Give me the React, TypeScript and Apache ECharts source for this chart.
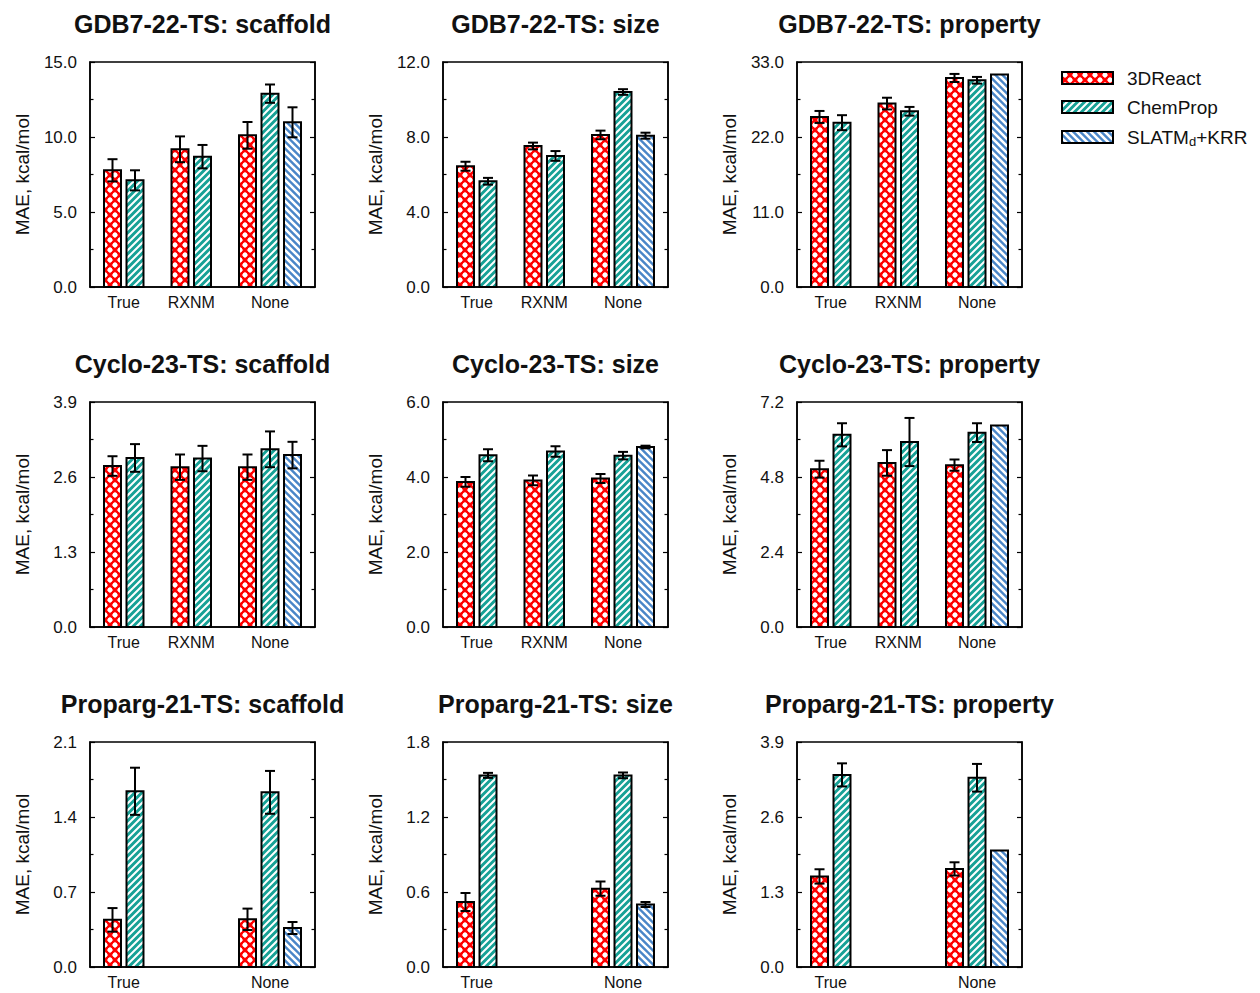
import { useEffect, useRef } from 'react';
import * as echarts from 'echarts';

// ---- data ----
const panelTitles = [
  'GDB7-22-TS: scaffold',
  'GDB7-22-TS: size',
  'GDB7-22-TS: property',
  'Cyclo-23-TS: scaffold',
  'Cyclo-23-TS: size',
  'Cyclo-23-TS: property',
  'Proparg-21-TS: scaffold',
  'Proparg-21-TS: size',
  'Proparg-21-TS: property',
];
const yMax = [15, 12, 33, 3.9, 6, 7.2, 2.1, 1.8, 3.9];
const groupLabels = ['True', 'RXNM', 'None'];
const yAxisName = 'MAE, kcal/mol';

// values per panel, ordered [True, RXNM, None]; null = not evaluated
const react3dMAE = [
  [7.78, 9.18, 10.11],
  [6.44, 7.52, 8.11],
  [24.94, 26.9, 30.66],
  [2.79, 2.77, 2.77],
  [3.87, 3.91, 3.96],
  [5.05, 5.25, 5.18],
  [0.44, null, 0.445],
  [0.52, null, 0.627],
  [1.57, null, 1.7],
];
const react3dErr = [
  [0.74, 0.86, 0.89],
  [0.24, 0.18, 0.23],
  [0.88, 0.86, 0.59],
  [0.17, 0.22, 0.22],
  [0.13, 0.13, 0.12],
  [0.27, 0.41, 0.18],
  [0.11, null, 0.1],
  [0.072, null, 0.057],
  [0.124, null, 0.115],
];
const chempropMAE = [
  [7.11, 8.69, 12.89],
  [5.64, 6.99, 10.4],
  [24.1, 25.77, 30.32],
  [2.93, 2.92, 3.08],
  [4.58, 4.68, 4.57],
  [6.15, 5.92, 6.22],
  [1.64, null, 1.63],
  [1.533, null, 1.533],
  [3.33, null, 3.28],
];
const chempropErr = [
  [0.67, 0.78, 0.61],
  [0.18, 0.26, 0.15],
  [1.1, 0.64, 0.49],
  [0.24, 0.22, 0.31],
  [0.16, 0.14, 0.1],
  [0.37, 0.77, 0.3],
  [0.22, null, 0.2],
  [0.02, null, 0.023],
  [0.2, null, 0.24],
];
const slatmMAE = [
  [null, null, 10.98],
  [null, null, 8.07],
  [null, null, 31.15],
  [null, null, 2.98],
  [null, null, 4.8],
  [null, null, 6.45],
  [null, null, 0.364],
  [null, null, 0.5],
  [null, null, 2.02],
];
const slatmErr = [
  [null, null, 1.0],
  [null, null, 0.16],
  [null, null, 0],
  [null, null, 0.23],
  [null, null, 0.035],
  [null, null, 0],
  [null, null, 0.056],
  [null, null, 0.02],
  [null, null, 0],
];

const FONT = 'Liberation Sans';
const TEXT = '#111';
const GRID_LEFT = [90, 443, 797];
const GRID_TOP = [62, 402, 742];
const GRID_SIZE = 225;
const BAR_W = 0.755; // in slot units (one slot = one bar step)

function makeTile(kind: number) {
  const c = document.createElement('canvas');
  const ctx = c.getContext('2d')!;
  if (kind === 0) {
    // red cross-hatch with white holes
    const s = 10;
    c.width = s;
    c.height = s;
    ctx.fillStyle = '#ff0000';
    ctx.fillRect(0, 0, s, s);
    ctx.fillStyle = '#ffffff';
    const pts = [[0, 0], [s, 0], [0, s], [s, s], [s / 2, s / 2]];
    for (const [px, py] of pts) {
      ctx.beginPath();
      ctx.moveTo(px, py - 3.3);
      ctx.quadraticCurveTo(px + 0.7, py - 0.7, px + 3.3, py);
      ctx.quadraticCurveTo(px + 0.7, py + 0.7, px, py + 3.3);
      ctx.quadraticCurveTo(px - 0.7, py + 0.7, px - 3.3, py);
      ctx.quadraticCurveTo(px - 0.7, py - 0.7, px, py - 3.3);
      ctx.fill();
      ctx.beginPath();
      ctx.arc(px, py, 2.4, 0, Math.PI * 2);
      ctx.fill();
    }
  } else {
    // diagonal white stripes
    const s = 14;
    c.width = s;
    c.height = s;
    ctx.fillStyle = kind === 1 ? '#17a196' : '#4a86c8';
    ctx.fillRect(0, 0, s, s);
    ctx.strokeStyle = '#ffffff';
    ctx.lineWidth = kind === 1 ? 2.0 : 2.6;
    ctx.beginPath();
    if (kind === 1) {
      for (let k = 0; k <= 4; k++) {
        const cc = k * 7;
        ctx.moveTo(-3, cc + 3);
        ctx.lineTo(cc + 3, -3);
      }
    } else {
      for (let k = -2; k <= 2; k++) {
        const cc = k * 7;
        ctx.moveTo(cc - 20, -20);
        ctx.lineTo(cc + 20, 20);
      }
    }
    ctx.stroke();
  }
  return c;
}

function buildOption() {
  const patterns = [0, 1, 2].map((k) => ({ image: makeTile(k), repeat: 'repeat' }));
  const means = [react3dMAE, chempropMAE, slatmMAE];
  const errs = [react3dErr, chempropErr, slatmErr];

  const grid: any[] = [];
  const xAxis: any[] = [];
  const yAxis: any[] = [];
  const series: any[] = [];
  const graphic: any[] = [];

  for (let i = 0; i < 9; i++) {
    const row = Math.floor(i / 3);
    const col = i % 3;
    const left = GRID_LEFT[col];
    const top = GRID_TOP[row];
    grid.push({
      left,
      top,
      width: GRID_SIZE,
      height: GRID_SIZE,
      show: true,
      borderColor: '#000',
      borderWidth: 1.5,
      backgroundColor: 'transparent',
    });

    const data: any[] = [];
    const labelPos: number[] = [];
    const labelText: Record<string, string> = {};
    for (let g = 0; g < 3; g++) {
      const xs: number[] = [];
      for (let m = 0; m < 3; m++) {
        const v = means[m][i][g];
        if (v == null) continue;
        const x = 1 + 3 * g + m;
        xs.push(x);
        data.push([x, v, errs[m][i][g] ?? 0, m]);
      }
      if (xs.length) {
        const c = xs.reduce((a, b) => a + b, 0) / xs.length;
        labelPos.push(c);
        labelText[c.toFixed(2)] = groupLabels[g];
      }
    }

    xAxis.push({
      gridIndex: i,
      type: 'value',
      min: 0,
      max: 10,
      axisLine: { show: true, onZero: false, lineStyle: { color: '#000', width: 1.5 } },
      axisTick: { show: false },
      splitLine: { show: false },
      axisLabel: {
        customValues: labelPos,
        formatter: (v: number) => labelText[v.toFixed(2)] ?? '',
        fontSize: 16,
        color: TEXT,
        fontFamily: FONT,
        margin: 7,
      },
    });

    const common = {
      gridIndex: i,
      type: 'value',
      min: 0,
      max: yMax[i],
      interval: yMax[i] / 3,
      axisLine: { show: true, lineStyle: { color: '#000', width: 1.5 } },
      axisTick: { show: true, inside: true, length: 5, lineStyle: { color: '#000', width: 1.2 } },
      minorTick: { show: true, splitNumber: 2, length: 3.5, lineStyle: { color: '#000', width: 1.2 } },
      splitLine: { show: false },
      minorSplitLine: { show: false },
    };
    yAxis.push({
      ...common,
      position: 'left',
      name: yAxisName,
      nameLocation: 'middle',
      nameGap: 58,
      nameTextStyle: { fontSize: 19, color: TEXT, fontFamily: FONT },
      axisLabel: {
        formatter: (v: number) => v.toFixed(1),
        fontSize: 17,
        color: TEXT,
        fontFamily: FONT,
        margin: 13,
      },
    });
    yAxis.push({
      ...common,
      position: 'right',
      axisLabel: { show: false },
    });

    series.push({
      type: 'custom',
      xAxisIndex: i,
      yAxisIndex: 2 * i,
      data,
      encode: { x: 0, y: 1 },
      renderItem: (params: any, api: any) => {
        const x = api.value(0);
        const v = api.value(1);
        const e = api.value(2);
        const m = api.value(3);
        const base = api.coord([x, 0]);
        const topPt = api.coord([x, v]);
        const w = api.size([BAR_W, 0])[0];
        const children: any[] = [
          {
            type: 'rect',
            shape: { x: base[0] - w / 2, y: topPt[1], width: w, height: base[1] - topPt[1] },
            style: { fill: patterns[m], stroke: '#000', lineWidth: 2 },
          },
        ];
        if (e > 0) {
          const hi = api.coord([x, v + e]);
          const lo = api.coord([x, v - e]);
          const es = { stroke: '#000', lineWidth: 2 };
          children.push(
            { type: 'line', shape: { x1: hi[0], y1: hi[1], x2: lo[0], y2: lo[1] }, style: es },
            { type: 'line', shape: { x1: hi[0] - 5, y1: hi[1], x2: hi[0] + 5, y2: hi[1] }, style: es },
            { type: 'line', shape: { x1: lo[0] - 5, y1: lo[1], x2: lo[0] + 5, y2: lo[1] }, style: es }
          );
        }
        return { type: 'group', children };
      },
    });

    graphic.push({
      type: 'text',
      x: left + GRID_SIZE / 2,
      y: top - 38,
      style: {
        text: panelTitles[i],
        fontSize: 25,
        fontWeight: 'bold',
        fontFamily: FONT,
        fill: TEXT,
        align: 'center',
        verticalAlign: 'middle',
      },
    });
  }

  // legend
  const legendY = [78, 107, 137];
  const legendText = ['{a|3DReact}', '{a|ChemProp}', '{a|SLATM}{s|d}{a|+KRR}'];
  for (let m = 0; m < 3; m++) {
    graphic.push({
      type: 'rect',
      shape: { x: 1062, y: legendY[m] - 6, width: 51, height: 12 },
      style: { fill: patterns[m], stroke: '#000', lineWidth: 2 },
    });
    graphic.push({
      type: 'text',
      x: 1127,
      y: legendY[m],
      style: {
        text: legendText[m],
        fill: TEXT,
        fontFamily: FONT,
        verticalAlign: 'middle',
        align: 'left',
        rich: {
          a: { fontSize: 19, lineHeight: 22, fontFamily: FONT, fill: TEXT },
          s: { fontSize: 13, lineHeight: 12, verticalAlign: 'bottom', fontFamily: FONT, fill: TEXT },
        },
      },
    });
  }

  return {
    animation: false,
    backgroundColor: '#ffffff',
    textStyle: { fontFamily: FONT },
    grid,
    xAxis,
    yAxis,
    series,
    graphic,
  };
}

export default function App() {
  const ref = useRef<HTMLDivElement>(null);
  useEffect(() => {
    if (!ref.current) return;
    const chart = echarts.init(ref.current, undefined, { renderer: 'svg' });
    chart.setOption(buildOption() as any);
    return () => chart.dispose();
  }, []);
  return (
    <div
      ref={ref}
      style={{ position: 'fixed', left: 0, top: 0, width: 1260, height: 993, background: '#fff' }}
    />
  );
}
